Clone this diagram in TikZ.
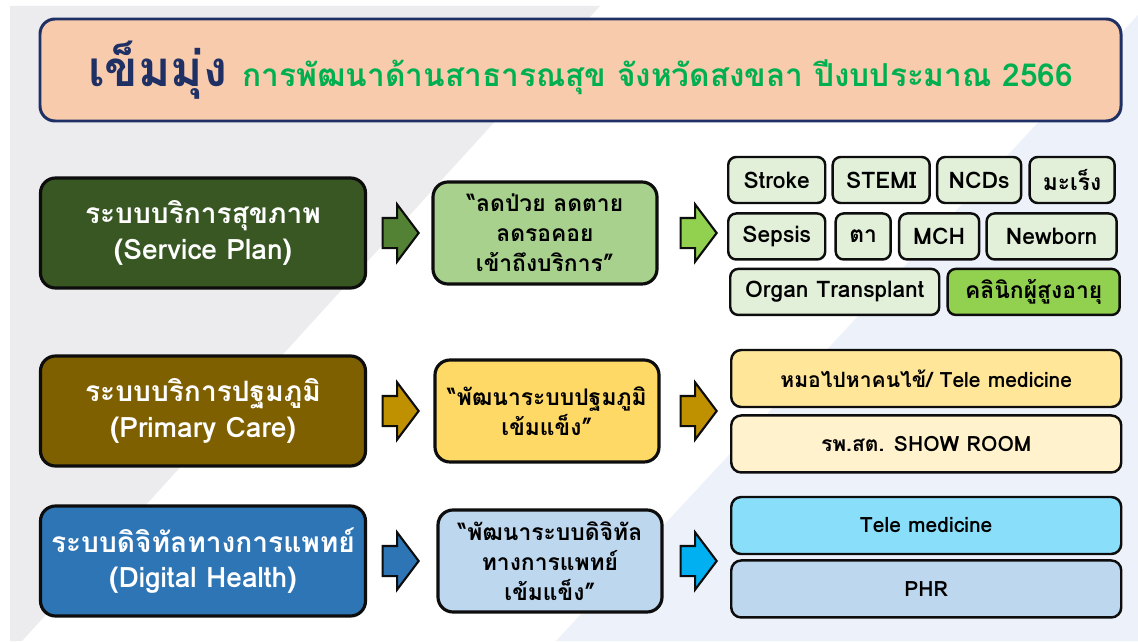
\documentclass[tikz,border=0pt]{standalone}
\usepackage{fontspec}
\setmainfont[Script=Thai]{Loma}
\usepackage{tikz}
\usetikzlibrary{shapes.arrows, positioning, backgrounds}
\definecolor{bggray}{RGB}{236,236,238}
\definecolor{bgblue}{RGB}{237,241,250}
\definecolor{peach}{RGB}{248,203,173}
\definecolor{navy}{RGB}{31,48,100}
\definecolor{titlegreen}{RGB}{0,176,80}
\definecolor{boxline}{RGB}{13,13,13}
\definecolor{svcgreen}{RGB}{56,87,35}
\definecolor{svcarrow}{RGB}{84,130,53}
\definecolor{svcgoal}{RGB}{169,209,142}
\definecolor{limegreen}{RGB}{146,208,80}
\definecolor{tagfill}{RGB}{226,240,217}
\definecolor{pcgold}{RGB}{127,96,0}
\definecolor{pcarrow}{RGB}{191,144,0}
\definecolor{pcgoal}{RGB}{255,217,102}
\definecolor{pcitem}{RGB}{255,230,153}
\definecolor{pcitemlt}{RGB}{255,242,204}
\definecolor{dhblue}{RGB}{46,117,182}
\definecolor{dhcyan}{RGB}{0,176,240}
\definecolor{dhgoal}{RGB}{189,215,238}
\definecolor{dhitem}{RGB}{137,222,250}
\tikzstyle{headbox}  = [rectangle, rounded corners=0.3cm, minimum width=21.62cm,
                        minimum height=2.04cm, draw=navy, line width=1.7pt,
                        fill=peach]
\tikzstyle{mainbox}  = [rectangle, rounded corners=0.3cm, minimum width=6.5cm,
                        minimum height=2.2cm, align=center, draw=boxline,
                        line width=1.8pt, text=white,
                        font=\fontsize{16}{20}\selectfont\bfseries]
\tikzstyle{goalbox}  = [rectangle, rounded corners=0.3cm, minimum width=4.48cm,
                        minimum height=2.04cm, align=center, draw=boxline,
                        line width=1.8pt, font=\fontsize{13}{17}\selectfont\bfseries]
\tikzstyle{tag}      = [rectangle, rounded corners=0.16cm, minimum height=0.92cm,
                        inner xsep=2pt, draw=boxline, line width=1.4pt,
                        fill=tagfill, font=\fontsize{13}{15}\selectfont\bfseries]
\tikzstyle{widebox}  = [rectangle, rounded corners=0.2cm, minimum width=7.8cm,
                        minimum height=1.14cm, draw=boxline, line width=1.4pt,
                        font=\fontsize{12}{14}\selectfont\bfseries]
\tikzstyle{blockarrow} = [single arrow, draw=boxline, line width=1.2pt,
                          minimum height=0.72cm, minimum width=1.1cm,
                          single arrow head extend=0.27cm,
                          single arrow tip angle=106, inner sep=0pt,
                          text height=0.56cm]
\begin{document}
\begin{tikzpicture}[node distance=3cm]
\useasboundingbox (0,0) rectangle (22.76,-12.82);
\fill[white]  (0,0) rectangle (22.76,-12.82);
\fill[bggray] (0.2,-0.12) -- (12.0,-0.12) -- (0.44,-12.82) -- (0.2,-12.82) -- cycle;
\fill[bgblue] (22.76,-0.3) -- (22.76,-12.82) -- (11.12,-12.82) -- cycle;

\node (ttl) [headbox] at (11.61,-1.4)
  {{\color{navy}\fontsize{28}{30}\selectfont\bfseries เข็มมุ่ง}\hspace{0.3cm}%
   {\color{titlegreen}\fontsize{18}{20}\selectfont\bfseries การพัฒนาด้านสาธารณสุข จังหวัดสงขลา ปีงบประมาณ 2566}};

\node (svc)   [mainbox, fill=svcgreen] at (4.06,-4.66) {ระบบบริการสุขภาพ\\(Service Plan)};
\node (ar1)   [blockarrow, fill=svcarrow, right of=svc, xshift=0.84cm] {};
\node (sgoal) [goalbox, fill=svcgoal, right of=ar1, xshift=0.0cm]
              {“ลดป่วย ลดตาย\\ลดรอคอย\\เข้าถึงบริการ”};
\node (ar2)   [blockarrow, fill=limegreen, right of=sgoal, xshift=-0.04cm] {};

\node (prim)  [mainbox, fill=pcgold, below of=svc, yshift=-0.56cm] {ระบบบริการปฐมภูมิ\\(Primary Care)};
\node (ar3)   [blockarrow, fill=pcarrow, right of=prim, xshift=0.84cm] {};
\node (pgoal) [goalbox, fill=pcgoal, right of=ar3, xshift=0.04cm]
              {“พัฒนาระบบปฐมภูมิ\\เข้มแข็ง”};
\node (ar4)   [blockarrow, fill=pcarrow, right of=pgoal, xshift=-0.08cm] {};

\node (dig)   [mainbox, fill=dhblue, below of=prim] {ระบบดิจิทัลทางการแพทย์\\(Digital Health)};
\node (ar5)   [blockarrow, fill=dhblue, right of=dig, xshift=0.84cm] {};
\node (dgoal) [goalbox, fill=dhgoal, right of=ar5, xshift=0.1cm]
              {“พัฒนาระบบดิจิทัล\\ทางการแพทย์\\เข้มแข็ง”};
\node (ar6)   [blockarrow, fill=dhcyan, right of=dgoal, xshift=-0.14cm] {};

\node (stk)    [tag, minimum width=1.94cm, right=0.18cm of ar2, yshift=1.06cm] {Stroke};
\node (stemi)  [tag, minimum width=1.94cm, right=0.1cm of stk]   {STEMI};
\node (ncd)    [tag, minimum width=1.68cm, right=0.1cm of stemi] {NCDs};
\node (cancer) [tag, minimum width=1.70cm, right=0.12cm of ncd]  {มะเร็ง};
\node (sep)    [tag, minimum width=1.94cm, below=0.16cm of stk]  {Sepsis};
\node (eye)    [tag, minimum width=1.10cm, right=0.16cm of sep]  {ตา};
\node (mch)    [tag, minimum width=1.60cm, right=0.12cm of eye]  {MCH};
\node (newb)   [tag, minimum width=2.60cm, right=0.1cm of mch]   {Newborn};
\node (organ)  [tag, minimum width=4.18cm, below right=0.14cm and 0.04cm of sep.south west]
               {Organ Transplant};
\node (elder)  [tag, minimum width=3.44cm, fill=limegreen, right=0.12cm of organ]
               {คลินิกผู้สูงอายุ};

\node (visit)  [widebox, fill=pcitem, right=0.24cm of ar4, yshift=0.65cm] {หมอไปหาคนไข้/ Tele medicine};
\node (show)   [widebox, fill=pcitemlt, below=0.12cm of visit] {รพ.สต. SHOW ROOM};
\node (tele)   [widebox, fill=dhitem, right=0.24cm of ar6, yshift=0.71cm] {Tele medicine};
\node (phr)    [widebox, fill=dhgoal, below=0.08cm of tele] {PHR};
\end{tikzpicture}
\end{document}
